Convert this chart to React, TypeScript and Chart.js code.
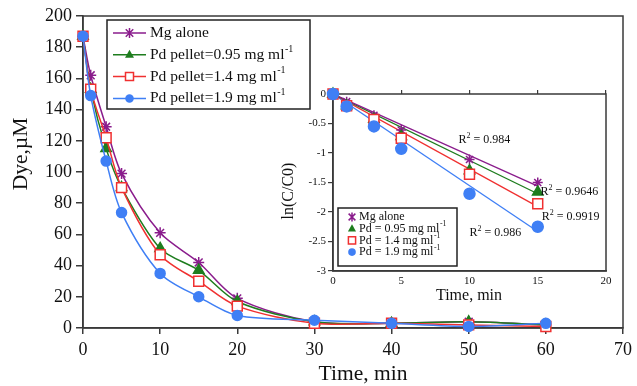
import React, { useEffect, useRef } from "react";
import { Chart, registerables } from "chart.js";
Chart.register(...registerables);

const FONT = '"Liberation Serif", "Times New Roman", serif';

// Main plot data
const times = [0, 1, 3, 5, 10, 15, 20, 30, 40, 50, 60];
const mgAlone = [187, 162, 129, 99, 61, 42, 19, 4, 3, 4, 2];
const pd095 = [187, 153, 115, 90, 51, 37, 17, 4, 3, 4, 2];
const pd14 = [187, 153, 122, 90, 47, 30, 14, 3, 3, 2, 1];
const pd19 = [187, 149, 107, 74, 35, 20, 8, 5, 3, 1, 3];

// Inset data
const insetTimes = [0, 1, 3, 5, 10, 15];
const lnMg = [0, -0.13, -0.36, -0.61, -1.11, -1.5];
const lnPd095 = [0, -0.2, -0.43, -0.72, -1.3, -1.66];
const lnPd14 = [0, -0.2, -0.43, -0.75, -1.36, -1.86];
const lnPd19 = [0, -0.21, -0.55, -0.93, -1.69, -2.25];
const trendTimes = [0, 15];
const trendMg = [0, -1.56];
const trendPd095 = [0, -1.69];
const trendPd14 = [0, -1.91];
const trendPd19 = [0, -2.33];

const r2Values = ["0.984", "0.9646", "0.9919", "0.986"];
const r2Pos = [
  [9.2, -0.78],
  [15.2, -1.66],
  [15.3, -2.08],
  [10.0, -2.36],
];

const mainLegend = [
  ["Mg alone", ""],
  ["Pd pellet=0.95 mg ml", "-1"],
  ["Pd pellet=1.4 mg ml", "-1"],
  ["Pd pellet=1.9 mg ml", "-1"],
];
const insetLegend = [
  ["Mg alone", ""],
  ["Pd = 0.95 mg ml", "-1"],
  ["Pd = 1.4 mg ml", "-1"],
  ["Pd = 1.9 mg ml", "-1"],
];

const mainXTitle = "Time, min";
const mainYTitle = "Dye,µM";
const insetXTitle = "Time, min";
const insetYTitle = "ln(C/C0)";

const COLORS = ["#8a1c8c", "#1e7d1e", "#f03030", "#3f7ff5"];
const STYLES = ["star", "triangle", "rect", "circle"];
const FILLS = ["#8a1c8c", "#1e7d1e", "#ffffff", "#3f7ff5"];

const AXIS = "#3a3a3a";

function drawMarker(ctx: CanvasRenderingContext2D, style: string, x: number, y: number, r: number, color: string, fill: string) {
  ctx.save();
  ctx.strokeStyle = color;
  ctx.fillStyle = fill;
  ctx.lineWidth = 1.5;
  ctx.beginPath();
  if (style === "star") {
    ctx.moveTo(x - r * 0.75, y - r * 0.75);
    ctx.lineTo(x + r * 0.75, y + r * 0.75);
    ctx.moveTo(x + r * 0.75, y - r * 0.75);
    ctx.lineTo(x - r * 0.75, y + r * 0.75);
    ctx.moveTo(x, y - r);
    ctx.lineTo(x, y + r);
    ctx.stroke();
  } else if (style === "triangle") {
    ctx.moveTo(x, y - r);
    ctx.lineTo(x + r * 0.9, y + r * 0.6);
    ctx.lineTo(x - r * 0.9, y + r * 0.6);
    ctx.closePath();
    ctx.fill();
  } else if (style === "rect") {
    ctx.rect(x - r * 0.8, y - r * 0.8, r * 1.6, r * 1.6);
    ctx.fill();
    ctx.stroke();
  } else {
    ctx.arc(x, y, r * 0.85, 0, Math.PI * 2);
    ctx.fill();
  }
  ctx.restore();
}

function drawRich(ctx: CanvasRenderingContext2D, x: number, y: number, main: string, sup: string, size: number) {
  ctx.save();
  ctx.fillStyle = "#111";
  ctx.textBaseline = "middle";
  ctx.textAlign = "left";
  ctx.font = `${size}px ${FONT}`;
  ctx.fillText(main, x, y);
  const w = ctx.measureText(main).width;
  if (sup) {
    ctx.font = `${size * 0.65}px ${FONT}`;
    ctx.fillText(sup, x + w + 0.5, y - size * 0.38);
  }
  ctx.restore();
}

function drawTitle(ctx: CanvasRenderingContext2D, text: string, x: number, y: number, size: number, vertical: boolean) {
  ctx.save();
  ctx.fillStyle = "#111";
  ctx.font = `${size}px ${FONT}`;
  ctx.textAlign = "center";
  ctx.textBaseline = "middle";
  ctx.translate(x, y);
  if (vertical) ctx.rotate(-Math.PI / 2);
  ctx.fillText(text, 0, 0);
  ctx.restore();
}

const frame = {
  id: "frame",
  beforeDatasetsDraw(chart: any) {
    const { ctx, chartArea: a } = chart;
    ctx.save();
    ctx.strokeStyle = AXIS;
    ctx.lineWidth = 1.5;
    ctx.strokeRect(a.left, a.top, a.right - a.left, a.bottom - a.top);
    ctx.restore();
  },
};

const mainExtras = {
  id: "mainExtras",
  afterDraw(chart: any) {
    const ctx = chart.ctx as CanvasRenderingContext2D;
    drawTitle(ctx, mainXTitle, 363, 374, 21.5, false);
    drawTitle(ctx, mainYTitle, 21, 154, 21.5, true);
    const bx = 107, by = 20, bw = 203, bh = 89;
    ctx.save();
    ctx.fillStyle = "#fff";
    ctx.fillRect(bx, by, bw, bh);
    ctx.strokeStyle = "#222";
    ctx.lineWidth = 1.5;
    ctx.strokeRect(bx, by, bw, bh);
    mainLegend.forEach((lab, i) => {
      const y = 33 + i * 21.8;
      ctx.strokeStyle = COLORS[i];
      ctx.lineWidth = 1.5;
      ctx.beginPath();
      ctx.moveTo(113, y);
      ctx.lineTo(146, y);
      ctx.stroke();
      drawMarker(ctx, STYLES[i], 129.5, y, 5, COLORS[i], FILLS[i]);
      drawRich(ctx, 150, y, lab[0], lab[1], 15.5);
    });
    ctx.restore();
  },
};

const insetExtras = {
  id: "insetExtras",
  afterDraw(chart: any) {
    const ctx = chart.ctx as CanvasRenderingContext2D;
    const xs = chart.scales.x;
    const ys = chart.scales.y;
    drawTitle(ctx, insetXTitle, 194, 212, 16, false);
    drawTitle(ctx, insetYTitle, 14, 107, 16, true);
    r2Values.forEach((v, i) => {
      const px = xs.getPixelForValue(r2Pos[i][0]);
      const py = ys.getPixelForValue(r2Pos[i][1]);
      ctx.save();
      ctx.fillStyle = "#111";
      ctx.textBaseline = "middle";
      ctx.font = `12px ${FONT}`;
      ctx.fillText("R", px, py);
      let w = ctx.measureText("R").width;
      ctx.font = `8px ${FONT}`;
      ctx.fillText("2", px + w, py - 4);
      w += ctx.measureText("2").width;
      ctx.font = `12px ${FONT}`;
      ctx.fillText(" = " + v, px + w, py);
      ctx.restore();
    });
    const bx = 63, by = 124, bw = 119, bh = 58;
    ctx.save();
    ctx.fillStyle = "#fff";
    ctx.fillRect(bx, by, bw, bh);
    ctx.strokeStyle = "#222";
    ctx.lineWidth = 1.5;
    ctx.strokeRect(bx, by, bw, bh);
    insetLegend.forEach((lab, i) => {
      const y = 133 + i * 11.7;
      drawMarker(ctx, STYLES[i], 77, y, 4.5, COLORS[i], FILLS[i]);
      drawRich(ctx, 84, y, lab[0], lab[1], 12);
    });
    ctx.restore();
  },
};

function pts(xs: number[], ys: number[]) {
  return xs.map((x, i) => ({ x, y: ys[i] }));
}

export default function App() {
  const mainRef = useRef<HTMLCanvasElement>(null);
  const insetRef = useRef<HTMLCanvasElement>(null);

  useEffect(() => {
    const mainSeries = [mgAlone, pd095, pd14, pd19];
    const radii = [5.5, 6, 7, 5];
    const c1 = new Chart(mainRef.current!, {
      type: "line",
      data: {
        datasets: mainSeries.map((s, i) => ({
          label: mainLegend[i][0],
          data: pts(times, s),
          borderColor: COLORS[i],
          backgroundColor: FILLS[i],
          pointBackgroundColor: FILLS[i],
          pointBorderColor: COLORS[i],
          pointBorderWidth: 1.5,
          pointStyle: STYLES[i] as any,
          pointRadius: radii[i],
          borderWidth: 1.5,
          tension: 0.3,
          clip: false,
          order: 3 - i,
        })),
      },
      options: {
        animation: false,
        responsive: false,
        layout: { padding: { top: 16, right: 11, left: 0, bottom: 0 } },
        plugins: { legend: { display: false }, tooltip: { enabled: false } },
        scales: {
          x: {
            type: "linear",
            min: 0,
            max: 70,
            ticks: { stepSize: 10, font: { family: FONT, size: 18 }, color: "#111", padding: 5, maxRotation: 0 },
            grid: { drawOnChartArea: false, drawTicks: true, tickLength: 6, color: AXIS, lineWidth: 1.5 },
            border: { display: true, color: AXIS, width: 1.5 },
            afterFit: (s: any) => { s.height = 58; },
          },
          y: {
            min: 0,
            max: 200,
            ticks: { stepSize: 20, font: { family: FONT, size: 18 }, color: "#111", padding: 4 },
            grid: { drawOnChartArea: false, drawTicks: true, tickLength: 7, color: AXIS, lineWidth: 1.5 },
            border: { display: true, color: AXIS, width: 1.5 },
            afterFit: (s: any) => { s.width = 83; },
          },
        },
      },
      plugins: [frame, mainExtras],
    } as any);

    const lnSeries = [lnMg, lnPd095, lnPd14, lnPd19];
    const trends = [trendMg, trendPd095, trendPd14, trendPd19];
    const iradii = [5, 6, 7, 5.5];
    const c2 = new Chart(insetRef.current!, {
      type: "scatter",
      data: {
        datasets: [
          ...trends.map((s, i) => ({
            label: "trend" + i,
            data: pts(trendTimes, s),
            showLine: true,
            borderColor: COLORS[i],
            borderWidth: 1.3,
            pointRadius: 0,
            order: 10,
          })),
          ...lnSeries.map((s, i) => ({
            label: insetLegend[i][0],
            data: pts(insetTimes, s),
            showLine: false,
            borderColor: COLORS[i],
            backgroundColor: FILLS[i],
            pointBackgroundColor: FILLS[i],
            pointBorderColor: COLORS[i],
            pointBorderWidth: 1.5,
            pointStyle: STYLES[i] as any,
            pointRadius: iradii[i],
            clip: false,
            order: 3 - i,
          })),
        ],
      },
      options: {
        animation: false,
        responsive: false,
        layout: { padding: { top: 0, right: 14, left: 0, bottom: 0 } },
        plugins: { legend: { display: false }, tooltip: { enabled: false } },
        scales: {
          x: {
            type: "linear",
            position: "bottom",
            min: 0,
            max: 20,
            ticks: { stepSize: 5, font: { family: FONT, size: 11 }, color: "#111", padding: 4, maxRotation: 0 },
            grid: { display: false, drawTicks: false },
            border: { display: true, color: AXIS, width: 1.5 },
            afterFit: (s: any) => { s.height = 35; },
          },
          x2: {
            type: "linear",
            position: "top",
            min: 0,
            max: 20,
            ticks: { stepSize: 5, display: false },
            grid: { drawOnChartArea: false, drawTicks: true, tickLength: 4, color: AXIS, lineWidth: 1.2 },
            border: { display: false },
            afterFit: (s: any) => { s.height = 10; },
          },
          y: {
            min: -3,
            max: 0,
            ticks: {
              stepSize: 0.5,
              font: { family: FONT, size: 11 },
              color: "#111",
              padding: 2,
              callback: (v: any) => String(Math.round(Number(v) * 10) / 10),
            },
            grid: { drawOnChartArea: false, drawTicks: true, tickLength: 5, color: AXIS, lineWidth: 1.2 },
            border: { display: true, color: AXIS, width: 1.5 },
            afterFit: (s: any) => { s.width = 58; },
          },
        },
      },
      plugins: [frame, insetExtras],
    } as any);

    return () => {
      c1.destroy();
      c2.destroy();
    };
  }, []);

  return (
    <div style={{ position: "fixed", left: 0, top: 0, width: 637, height: 386, background: "#fff" }}>
      <canvas ref={mainRef} width={637} height={386} style={{ position: "absolute", left: 0, top: 0 }} />
      <canvas ref={insetRef} width={345} height={222} style={{ position: "absolute", left: 275, top: 84 }} />
    </div>
  );
}
